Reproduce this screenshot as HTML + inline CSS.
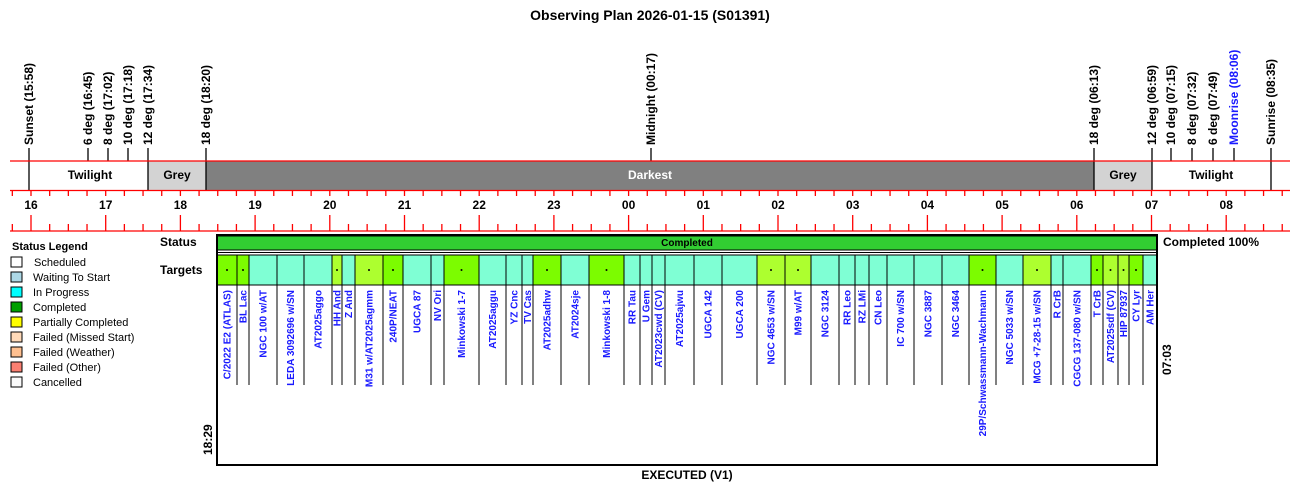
<!DOCTYPE html>
<html><head><meta charset="utf-8"><style>
html,body{margin:0;padding:0;background:#fff}
svg{display:block;font-family:"Liberation Sans",Arial,sans-serif}
.b{font-weight:bold}
.n{font-size:10px;font-weight:bold;fill:#1a1aff}
.t{font-size:12px;font-weight:bold;fill:#000}
.lg{font-size:11px;fill:#000}
</style></head><body>
<svg width="1300" height="495" viewBox="0 0 1300 495" xmlns="http://www.w3.org/2000/svg">
<text x="650" y="20" text-anchor="middle" class="b" font-size="14">Observing Plan 2026-01-15 (S01391)</text>

<!-- band -->
<rect x="29" y="161" width="119" height="29" fill="#fff"/>
<rect x="148" y="161" width="58" height="29" fill="#d3d3d3"/>
<rect x="206" y="161" width="888" height="29" fill="#808080"/>
<rect x="1094" y="161" width="58" height="29" fill="#d3d3d3"/>
<rect x="1152" y="161" width="119" height="29" fill="#fff"/>
<g stroke="#000" stroke-width="1.3">
<line x1="29" y1="148" x2="29" y2="190"/><line x1="88" y1="148" x2="88" y2="161"/><line x1="108" y1="148" x2="108" y2="161"/><line x1="128" y1="148" x2="128" y2="161"/>
<line x1="148" y1="148" x2="148" y2="190"/><line x1="206" y1="148" x2="206" y2="190"/><line x1="651" y1="148" x2="651" y2="161"/>
<line x1="1094" y1="148" x2="1094" y2="190"/><line x1="1152" y1="148" x2="1152" y2="190"/><line x1="1171" y1="148" x2="1171" y2="161"/><line x1="1192" y1="148" x2="1192" y2="161"/><line x1="1213" y1="148" x2="1213" y2="161"/><line x1="1234" y1="148" x2="1234" y2="161"/><line x1="1271" y1="148" x2="1271" y2="190"/>
</g>
<text x="90" y="179" text-anchor="middle" class="t">Twilight</text>
<text x="177" y="179" text-anchor="middle" class="t">Grey</text>
<text x="650" y="179" text-anchor="middle" class="t" fill="#fff" style="fill:#fff">Darkest</text>
<text x="1123" y="179" text-anchor="middle" class="t">Grey</text>
<text x="1211" y="179" text-anchor="middle" class="t">Twilight</text>

<!-- top labels -->
<g class="t">
<text transform="translate(33,145) rotate(-90)">Sunset (15:58)</text>
<text transform="translate(92,145) rotate(-90)">6 deg (16:45)</text>
<text transform="translate(112,145) rotate(-90)">8 deg (17:02)</text>
<text transform="translate(132,145) rotate(-90)">10 deg (17:18)</text>
<text transform="translate(152,145) rotate(-90)">12 deg (17:34)</text>
<text transform="translate(210,145) rotate(-90)">18 deg (18:20)</text>
<text transform="translate(655,145) rotate(-90)">Midnight (00:17)</text>
<text transform="translate(1098,145) rotate(-90)">18 deg (06:13)</text>
<text transform="translate(1156,145) rotate(-90)">12 deg (06:59)</text>
<text transform="translate(1175,145) rotate(-90)">10 deg (07:15)</text>
<text transform="translate(1196,145) rotate(-90)">8 deg (07:32)</text>
<text transform="translate(1217,145) rotate(-90)">6 deg (07:49)</text>
<text transform="translate(1238,145) rotate(-90)" style="fill:#1a1aff">Moonrise (08:06)</text>
<text transform="translate(1275,145) rotate(-90)">Sunrise (08:35)</text>
</g>

<!-- axis -->
<g stroke="#f00" stroke-width="1.3">
<line x1="10" y1="161" x2="1290" y2="161"/><line x1="10" y1="190.5" x2="1290" y2="190.5"/><line x1="10" y1="231" x2="1290" y2="231"/>
<g id="ticks"></g>
</g>
<g id="hl" class="t"></g>

<!-- legend -->
<text x="12" y="250" class="lg b" font-size="10.5">Status Legend</text>
<g stroke="#000" stroke-width="1">
<rect x="11" y="257" width="11" height="10" fill="#fff"/>
<rect x="11" y="272" width="11" height="10" fill="#add8e6"/>
<rect x="11" y="287" width="11" height="10" fill="#00ffff"/>
<rect x="11" y="302" width="11" height="10" fill="#00a000"/>
<rect x="11" y="317" width="11" height="10" fill="#ffff00"/>
<rect x="11" y="332" width="11" height="10" fill="#ffdab9"/>
<rect x="11" y="347" width="11" height="10" fill="#ffc090"/>
<rect x="11" y="362" width="11" height="10" fill="#fa8072"/>
<rect x="11" y="377" width="11" height="10" fill="#fafafa"/>
</g>
<g class="lg">
<text x="34" y="266">Scheduled</text><text x="33" y="281">Waiting To Start</text><text x="33" y="296">In Progress</text><text x="33" y="311">Completed</text><text x="33" y="326">Partially Completed</text><text x="33" y="341">Failed (Missed Start)</text><text x="33" y="356">Failed (Weather)</text><text x="33" y="371">Failed (Other)</text><text x="33" y="386">Cancelled</text>
</g>

<text x="160" y="246" class="t">Status</text>
<text x="160" y="274" class="t">Targets</text>
<text x="1163" y="246" class="t">Completed 100%</text>

<rect x="217" y="236" width="940" height="14" fill="#32cd32" stroke="#000" stroke-width="1"/>
<text x="687" y="246" text-anchor="middle" font-size="10" class="b">Completed</text>
<g id="tg"></g>
<rect x="217" y="235" width="940" height="230" fill="none" stroke="#000" stroke-width="2"/>

<text transform="translate(212,455) rotate(-90)" class="t" font-size="11">18:29</text>
<text transform="translate(1171,375) rotate(-90)" class="t" font-size="11">07:03</text>
<text x="687" y="479" text-anchor="middle" class="t">EXECUTED (V1)</text>
</svg>
<script>
var NS="http://www.w3.org/2000/svg";
function el(p,n,a,t){var e=document.createElementNS(NS,n);for(var k in a)e.setAttribute(k,a[k]);if(t)e.textContent=t;p.appendChild(e);return e;}
var tk=document.getElementById("ticks"),hl=document.getElementById("hl");
function X(h){return 31+74.7*(h-16);}
for(var q=-1;q<=4*17+2;q++){var h=16+q/4,x=X(h);if(x<10||x>1290)continue;
 el(tk,"line",{x1:x,y1:190,x2:x,y2:196});
 el(tk,"line",{x1:x,y1:(q%4==0?215:224),x2:x,y2:231});}
var labs=["16","17","18","19","20","21","22","23","00","01","02","03","04","05","06","07","08"];
labs.forEach(function(l,i){el(hl,"text",{x:X(16+i),y:209,"text-anchor":"middle"},l);});
var G="#7cfc00",Y="#adff2f",A="#7fffd4";
var T=[[217,237,G,"C/2022 E2 (ATLAS)"],[237,249,G,"BL Lac"],[249,277,A,"NGC 100 w/AT"],[277,304,A,"LEDA 3092696 w/SN"],[304,332,A,"AT2025aggo"],[332,342,Y,"HH And"],[342,355,A,"Z And"],[355,383,Y,"M31 w/AT2025agmm"],[383,403,G,"240P/NEAT"],[403,431,A,"UGCA 87"],[431,444,A,"NV Ori"],[444,479,G,"Minkowski 1-7"],[479,506,A,"AT2025aggu"],[506,522,A,"YZ Cnc"],[522,533,A,"TV Cas"],[533,561,G,"AT2025adhw"],[561,589,A,"AT2024sje"],[589,624,G,"Minkowski 1-8"],[624,640,A,"RR Tau"],[640,652,A,"U Gem"],[652,665,A,"AT2023cwd (CV)"],[665,694,A,"AT2025ajwu"],[694,722,A,"UGCA 142"],[722,757,A,"UGCA 200"],[757,785,Y,"NGC 4653 w/SN"],[785,811,Y,"M99 w/AT"],[811,839,A,"NGC 3124"],[839,855,A,"RR Leo"],[855,869,A,"RZ LMi"],[869,887,A,"CN Leo"],[887,914,A,"IC 700 w/SN"],[914,942,A,"NGC 3887"],[942,969,A,"NGC 3464"],[969,996,G,"29P/Schwassmann-Wachmann"],[996,1023,A,"NGC 5033 w/SN"],[1023,1051,Y,"MCG +7-28-15 w/SN"],[1051,1063,A,"R CrB"],[1063,1091,A,"CGCG 137-080 w/SN"],[1091,1103,G,"T CrB"],[1103,1118,Y,"AT2025sdf (CV)"],[1118,1129,Y,"HIP 87937"],[1129,1143,G,"CY Lyr"],[1143,1157,A,"AM Her"]];
var tg=document.getElementById("tg");
T.forEach(function(t){var w=t[1]-t[0],c=(t[0]+t[1])/2;
 el(tg,"rect",{x:t[0],y:255,width:w,height:30,fill:t[2],stroke:"#000","stroke-width":1});
 if(t[2]!=A)el(tg,"circle",{cx:c,cy:270,r:1,fill:"#000"});
 el(tg,"line",{x1:t[1],y1:285,x2:t[1],y2:385,stroke:"#000","stroke-width":1});
 el(tg,"text",{transform:"translate("+(c+3.5)+",290) rotate(-90)","text-anchor":"end","class":"n"},t[3]);});
el(tg,"line",{x1:217,y1:252.5,x2:1157,y2:252.5,stroke:"#000","stroke-width":1});
</script>
</body></html>
